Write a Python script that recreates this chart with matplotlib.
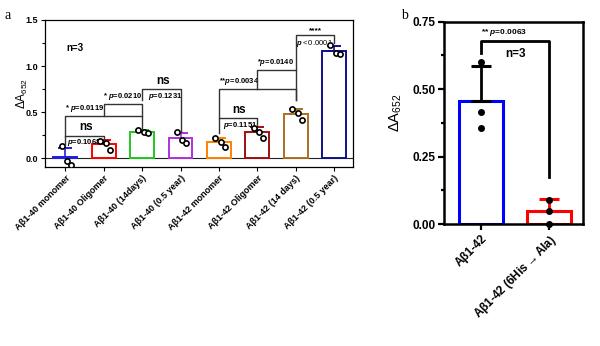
import numpy as np
import matplotlib
matplotlib.use("Agg")
import matplotlib.pyplot as plt
from matplotlib.ticker import MultipleLocator

plt.rcParams['font.family'] = ['Liberation Sans Narrow', 'Liberation Sans', 'DejaVu Sans']
plt.rcParams['mathtext.fontset'] = 'custom'
plt.rcParams['mathtext.it'] = 'Liberation Sans:italic:bold'
plt.rcParams['mathtext.rm'] = 'Liberation Sans'
plt.rcParams['mathtext.bf'] = 'Liberation Sans:bold'

# panel a data
labels_a = ["Aβ1-40 monomer", "Aβ1-40 Oligomer", "Aβ1-40 (14days)", "Aβ1-40 (0.5 year)",
            "Aβ1-42 monomer", "Aβ1-42 Oligomer", "Aβ1-42 (14 days)", "Aβ1-42 (0.5 year)"]
points_a = [[0.13, -0.03, -0.07],
            [0.19, 0.17, 0.09],
            [0.31, 0.29, 0.27],
            [0.28, 0.20, 0.17],
            [0.22, 0.18, 0.12],
            [0.33, 0.29, 0.22],
            [0.53, 0.49, 0.42],
            [1.23, 1.14, 1.13]]
colors_a = ['#2020e0', '#ff0000', '#20c820', '#b030e0', '#ff8000', '#a01010', '#a87020', '#10108a']

# panel b data
labels_b = ["Aβ1-42", "Aβ1-42 (6His$\\mathbf{\\rightarrow}$Ala)"]
points_b = [[0.60, 0.415, 0.355], [0.09, 0.05, 0.0]]
colors_b = ['#0000ff', '#ff0000']
errcol_b = ['black', '#ff0000']

fig = plt.figure(figsize=(6, 3.46), dpi=100)

# ---------- panel a ----------
ax = fig.add_axes([0.075, 0.5173, 0.5133, 0.4249])
x = np.arange(len(labels_a))
means = np.array([np.mean(p) for p in points_a])
sds = np.array([np.std(p, ddof=1) for p in points_a])
for i in x:
    ax.bar(i, means[i], width=0.62, color='white', edgecolor=colors_a[i], lw=1.4, zorder=2)
    ax.errorbar(i, means[i], yerr=[[0], [sds[i]]], color=colors_a[i], capsize=5,
                lw=1.2, capthick=1.4, zorder=3)
    offs = [-0.1, 0.05, 0.15]
    ax.scatter(i + np.array(offs), points_a[i], s=14, facecolor='white',
               edgecolor='black', lw=1.2, zorder=4)
ax.axhline(0, color='#222222', lw=0.8, zorder=1)
ax.set_xlim(-0.53, 7.49)
ax.set_ylim(-0.095, 1.5)
ax.yaxis.set_major_locator(MultipleLocator(0.5))
ax.yaxis.set_minor_locator(MultipleLocator(0.25))
ax.yaxis.set_major_formatter(matplotlib.ticker.FormatStrFormatter('%.1f'))
ax.set_xticks(x)
ax.set_xticklabels(labels_a, rotation=45, ha='right', rotation_mode='anchor',
                   fontsize=6.5, fontweight='bold')
ax.tick_params(axis='both', length=3, width=0.8, labelsize=6.5, pad=2)
ax.tick_params(axis='y', which='minor', length=2, width=0.8)
for t in ax.get_yticklabels():
    t.set_fontweight('bold')
for s in ax.spines.values():
    s.set_linewidth(0.9)
ax.set_ylabel("ΔA$_{652}$", fontsize=8.5, family=['Liberation Sans', 'DejaVu Sans'])
ax.yaxis.set_label_coords(-0.05, 0.5)


def bracket(a, x1, x2, h, y1, y2, color='#333333', lw=1.0):
    a.plot([x1, x1, x2, x2], [y1, h, h, y2], color=color, lw=lw, zorder=5)


bracket(ax, 0, 1, 0.245, 0.14, 0.21)
ax.text(0.53, 0.27, "ns", ha='center', va='bottom', fontsize=8.5, fontweight='bold')
ax.text(0.5, 0.235, "$\\it{p}$=0.1068", ha='center', va='top', fontsize=5.5, fontweight='bold')
bracket(ax, 0, 2, 0.456, 0.245, 0.32)
ax.text(-0.02, 0.475, "* $\\it{p}$=0.0119", ha='left', va='bottom', fontsize=5.5, fontweight='bold')
bracket(ax, 1, 2, 0.587, 0.456, 0.456)
ax.text(0.98, 0.605, "* $\\it{p}$=0.0210", ha='left', va='bottom', fontsize=5.5, fontweight='bold')
bracket(ax, 2, 3, 0.75, 0.635, 0.29)
ax.text(2.55, 0.77, "ns", ha='center', va='bottom', fontsize=8.5, fontweight='bold')
ax.text(2.6, 0.725, "$\\it{p}$=0.1231", ha='center', va='top', fontsize=5.5, fontweight='bold')
bracket(ax, 4, 5, 0.434, 0.27, 0.36)
ax.text(4.52, 0.455, "ns", ha='center', va='bottom', fontsize=8.5, fontweight='bold')
ax.text(4.55, 0.41, "$\\it{p}$=0.1151", ha='center', va='top', fontsize=5.5, fontweight='bold')
bracket(ax, 4, 6, 0.752, 0.434, 0.635)
ax.text(3.99, 0.77, "**$\\it{p}$=0.0034", ha='left', va='bottom', fontsize=5.5, fontweight='bold')
bracket(ax, 5, 6, 0.953, 0.752, 0.635)
ax.text(4.99, 0.975, "*$\\it{p}$=0.0140", ha='left', va='bottom', fontsize=5.5, fontweight='bold')
bracket(ax, 6, 7, 1.336, 0.953, 1.255)
ax.text(6.52, 1.35, "****", ha='center', va='bottom', fontsize=6, fontweight='bold')
ax.text(6.48, 1.31, "$\\it{p<0.0001}$", ha='center', va='top', fontsize=5.5)
ax.text(0.25, 1.2, "n=3", ha='center', va='center', fontsize=7, fontweight='bold')

# ---------- panel b ----------
bx = fig.add_axes([0.7405, 0.3526, 0.2307, 0.5847])
xb = np.arange(len(labels_b))
mb = np.array([np.mean(p) for p in points_b])
sb = np.array([np.std(p, ddof=1) for p in points_b])
for i in xb:
    bx.bar(i, mb[i], width=0.65, color='white', edgecolor=colors_b[i], lw=2.2, zorder=2)
    bx.errorbar(i, mb[i], yerr=[[0], [sb[i]]], color=errcol_b[i], capsize=7,
                lw=2.0, capthick=2.2, zorder=3)
    bx.scatter(np.full(3, i), points_b[i], s=16, color='black', zorder=4, clip_on=False)
bx.set_xlim(-0.55, 1.5)
bx.set_ylim(0, 0.75)
bx.yaxis.set_major_locator(MultipleLocator(0.25))
bx.yaxis.set_minor_locator(MultipleLocator(0.125))
bx.yaxis.set_major_formatter(matplotlib.ticker.FormatStrFormatter('%.2f'))
bx.set_xticks(xb)
bx.set_xticklabels(labels_b, rotation=45, ha='right', rotation_mode='anchor',
                   fontsize=8.5, fontweight='bold', family=['Liberation Sans', 'DejaVu Sans'])
bx.tick_params(axis='both', length=4, width=1.6, labelsize=8.5, pad=2)
bx.tick_params(axis='y', which='minor', length=2.5, width=1.6)
for t in bx.get_yticklabels():
    t.set_fontweight('bold')
for s in bx.spines.values():
    s.set_linewidth(1.8)
bx.set_ylabel("ΔA$_{652}$", fontsize=10.5, family=['Liberation Sans', 'DejaVu Sans'])
bx.yaxis.set_label_coords(-0.29, 0.55)
bracket(bx, 0, 1, 0.68, 0.633, 0.175, color='black', lw=2.0)
bx.text(-0.01, 0.69, "** $\\it{p}$=0.0063", ha='left', va='bottom', fontsize=6, fontweight='bold')
bx.text(0.5, 0.63, "n=3", ha='center', va='center', fontsize=8.5, fontweight='bold')

fig.text(0.008, 0.955, "a", fontsize=10, family='Liberation Serif', va='center')
fig.text(0.668, 0.955, "b", fontsize=10, family='Liberation Serif', va='center')

fig.savefig("out.png", dpi=100)
